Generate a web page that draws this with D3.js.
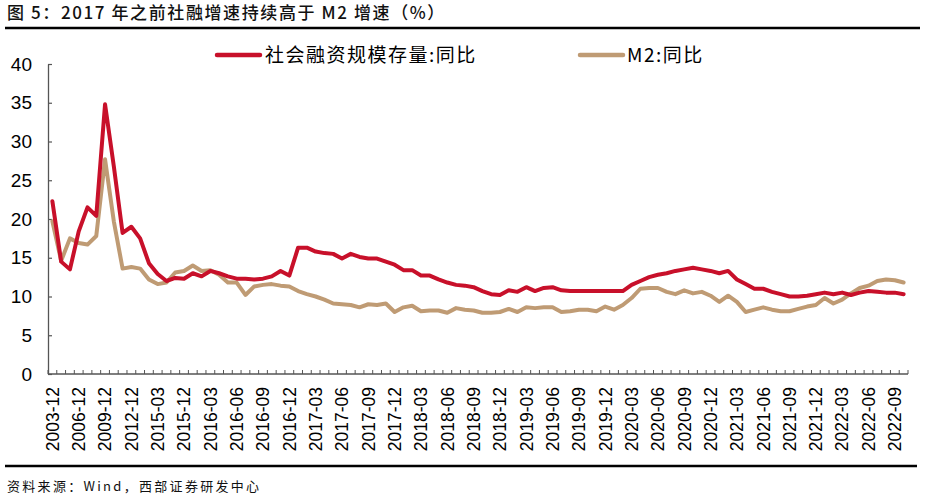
<!DOCTYPE html>
<html>
<head>
<meta charset="utf-8">
<script src="https://cdn.jsdelivr.net/npm/d3@7/dist/d3.min.js"></script>
<style>
  html, body { margin: 0; padding: 0; background: #fff; }
  svg { display: block; }
</style>
</head>
<body>
<svg id="chart" width="925" height="497"></svg>
<script>
const categories = [
  "2003-12","2004-12","2005-12","2006-12","2007-12","2008-12","2009-12","2010-12","2011-12","2012-12","2013-12","2014-12",
  "2015-03","2015-06","2015-09","2015-12",
  "2016-01","2016-02","2016-03","2016-04","2016-05","2016-06","2016-07","2016-08","2016-09","2016-10","2016-11","2016-12",
  "2017-01","2017-02","2017-03","2017-04","2017-05","2017-06","2017-07","2017-08","2017-09","2017-10","2017-11","2017-12",
  "2018-01","2018-02","2018-03","2018-04","2018-05","2018-06","2018-07","2018-08","2018-09","2018-10","2018-11","2018-12",
  "2019-01","2019-02","2019-03","2019-04","2019-05","2019-06","2019-07","2019-08","2019-09","2019-10","2019-11","2019-12",
  "2020-01","2020-02","2020-03","2020-04","2020-05","2020-06","2020-07","2020-08","2020-09","2020-10","2020-11","2020-12",
  "2021-01","2021-02","2021-03","2021-04","2021-05","2021-06","2021-07","2021-08","2021-09","2021-10","2021-11","2021-12",
  "2022-01","2022-02","2022-03","2022-04","2022-05","2022-06","2022-07","2022-08","2022-09","2022-10"
];

const tsfGrowth = [
  22.3,14.5,13.5,18.4,21.5,20.4,34.8,26.8,18.2,19.0,17.5,14.3,
  12.9,12.0,12.4,12.3,
  13.0,12.6,13.3,13.0,12.6,12.3,12.3,12.2,12.3,12.6,13.3,12.7,
  16.3,16.3,15.8,15.6,15.5,14.9,15.5,15.1,14.9,14.9,14.5,14.1,
  13.4,13.4,12.7,12.7,12.2,11.8,11.5,11.4,11.2,10.7,10.3,10.2,
  10.8,10.6,11.2,10.7,11.1,11.2,10.8,10.7,10.7,10.7,10.7,10.7,
  10.7,10.7,11.5,12.0,12.5,12.8,13.0,13.3,13.5,13.7,13.5,13.3,
  13.0,13.3,12.2,11.6,11.0,11.0,10.6,10.3,10.0,10.0,10.1,10.3,
  10.5,10.3,10.5,10.2,10.5,10.7,10.6,10.5,10.5,10.3
];

const m2Growth = [
  19.7,14.6,17.5,16.9,16.7,17.8,27.7,19.7,13.6,13.8,13.6,12.2,
  11.6,11.8,13.1,13.3,
  14.0,13.3,13.4,12.8,11.8,11.8,10.2,11.3,11.5,11.6,11.4,11.3,
  10.7,10.3,10.0,9.6,9.1,9.0,8.9,8.6,9.0,8.9,9.1,8.0,
  8.6,8.8,8.1,8.2,8.2,7.9,8.5,8.3,8.2,7.9,7.9,8.0,
  8.4,8.0,8.6,8.5,8.6,8.6,8.0,8.1,8.3,8.3,8.1,8.7,
  8.3,8.9,9.8,11.0,11.1,11.1,10.6,10.3,10.8,10.4,10.6,10.1,
  9.3,10.1,9.3,8.0,8.3,8.6,8.3,8.1,8.1,8.4,8.7,8.9,
  9.8,9.1,9.6,10.4,11.1,11.4,12.0,12.2,12.1,11.8
];

const tickLabels = [
  "2003-12","2006-12","2009-12","2012-12","2015-03","2015-12","2016-03","2016-06","2016-09","2016-12",
  "2017-03","2017-06","2017-09","2017-12","2018-03","2018-06","2018-09","2018-12","2019-03","2019-06",
  "2019-09","2019-12","2020-03","2020-06","2020-09","2020-12","2021-03","2021-06","2021-09","2021-12",
  "2022-03","2022-06","2022-09"
];

const yTicks = [0,5,10,15,20,25,30,35,40];

const seriesNames = ["社会融资规模存量:同比", "M2:同比"];
const titleText = "图 5：2017 年之前社融增速持续高于 M2 增速（%）";
const sourceText = "资料来源：Wind，西部证券研发中心";

// ---------------- drawing ----------------
(function () {
const svg = d3.select("#chart");
const W = 925, H = 497;
const plotL = 48, plotR = 908, plotT = 64, plotB = 374;

svg.append("rect").attr("width", W).attr("height", H).attr("fill", "#fff");

const x = d3.scaleBand().domain(categories).range([plotL, plotR]).paddingInner(0).paddingOuter(0);
const y = d3.scaleLinear().domain([0, 40]).range([plotB, plotT]);
const bw = x.bandwidth();
const cx = c => x(c) + bw / 2;

const latin = "'Liberation Sans', Arial, sans-serif";
const cjk = "'Noto Sans CJK SC', 'Liberation Sans', sans-serif";

// title
svg.append("text")
  .attr("x", 7).attr("y", 19)
  .attr("font-family", cjk).attr("font-size", 17).attr("font-weight", 500)
  .attr("letter-spacing", 1.6)
  .attr("fill", "#111")
  .text(titleText);

svg.append("line").attr("x1", 5).attr("x2", 920).attr("y1", 28).attr("y2", 28)
  .attr("stroke", "#000").attr("stroke-width", 2.5);
svg.append("line").attr("x1", 5).attr("x2", 917).attr("y1", 466).attr("y2", 466)
  .attr("stroke", "#000").attr("stroke-width", 2.5);

// source
svg.append("text")
  .attr("x", 7).attr("y", 491)
  .attr("font-family", cjk).attr("font-size", 13)
  .attr("letter-spacing", 2.3)
  .attr("fill", "#111")
  .text(sourceText);

// y axis
const yAxis = d3.axisLeft(y).tickValues(yTicks).tickSizeInner(-4).tickSizeOuter(0).tickPadding(16);
const gy = svg.append("g").attr("transform", `translate(${plotL},0)`).call(yAxis);
gy.select(".domain").attr("stroke", "#555").attr("stroke-width", 1.3);
gy.selectAll(".tick line").attr("stroke", "#555").attr("stroke-width", 1.2);
gy.selectAll(".tick text").attr("font-family", latin).attr("font-size", 19).attr("fill", "#000");

// x axis line and ticks at band boundaries
svg.append("line").attr("x1", plotL).attr("x2", plotR).attr("y1", plotB).attr("y2", plotB)
  .attr("stroke", "#555").attr("stroke-width", 1.3);
const boundaries = categories.map(c => x(c)).concat([x(categories[categories.length - 1]) + bw]);
svg.append("g").selectAll("line").data(boundaries).join("line")
  .attr("x1", d => d).attr("x2", d => d)
  .attr("y1", plotB - 4).attr("y2", plotB)
  .attr("stroke", "#555").attr("stroke-width", 1);

// x tick labels
svg.append("g").selectAll("text").data(tickLabels).join("text")
  .attr("transform", d => `translate(${cx(d)},387) rotate(-90)`)
  .attr("text-anchor", "end")
  .attr("dy", "0.36em")
  .attr("font-family", latin).attr("font-size", 17.5).attr("fill", "#000")
  .text(d => d);

// lines
const line = d3.line().x((d, i) => cx(categories[i])).y(d => y(d));
svg.append("path").datum(m2Growth)
  .attr("d", line).attr("fill", "none")
  .attr("stroke", "#BF9B74").attr("stroke-width", 4)
  .attr("stroke-linejoin", "round").attr("stroke-linecap", "round");
svg.append("path").datum(tsfGrowth)
  .attr("d", line).attr("fill", "none")
  .attr("stroke", "#C8102A").attr("stroke-width", 4)
  .attr("stroke-linejoin", "round").attr("stroke-linecap", "round");

// legend
const legend = [
  { name: seriesNames[0], color: "#C8102A", x1: 217, x2: 260, tx: 265 },
  { name: seriesNames[1], color: "#BF9B74", x1: 580, x2: 623, tx: 627 }
];
const lg = svg.append("g");
legend.forEach(d => {
  lg.append("line").attr("x1", d.x1).attr("x2", d.x2).attr("y1", 55).attr("y2", 55)
    .attr("stroke", d.color).attr("stroke-width", 4.5).attr("stroke-linecap", "round");
  lg.append("text").attr("x", d.tx).attr("y", 55).attr("dy", "0.36em")
    .attr("font-family", cjk).attr("font-size", 19).attr("letter-spacing", 1.5).attr("fill", "#000")
    .text(d.name);
});
})();
</script>
</body>
</html>
